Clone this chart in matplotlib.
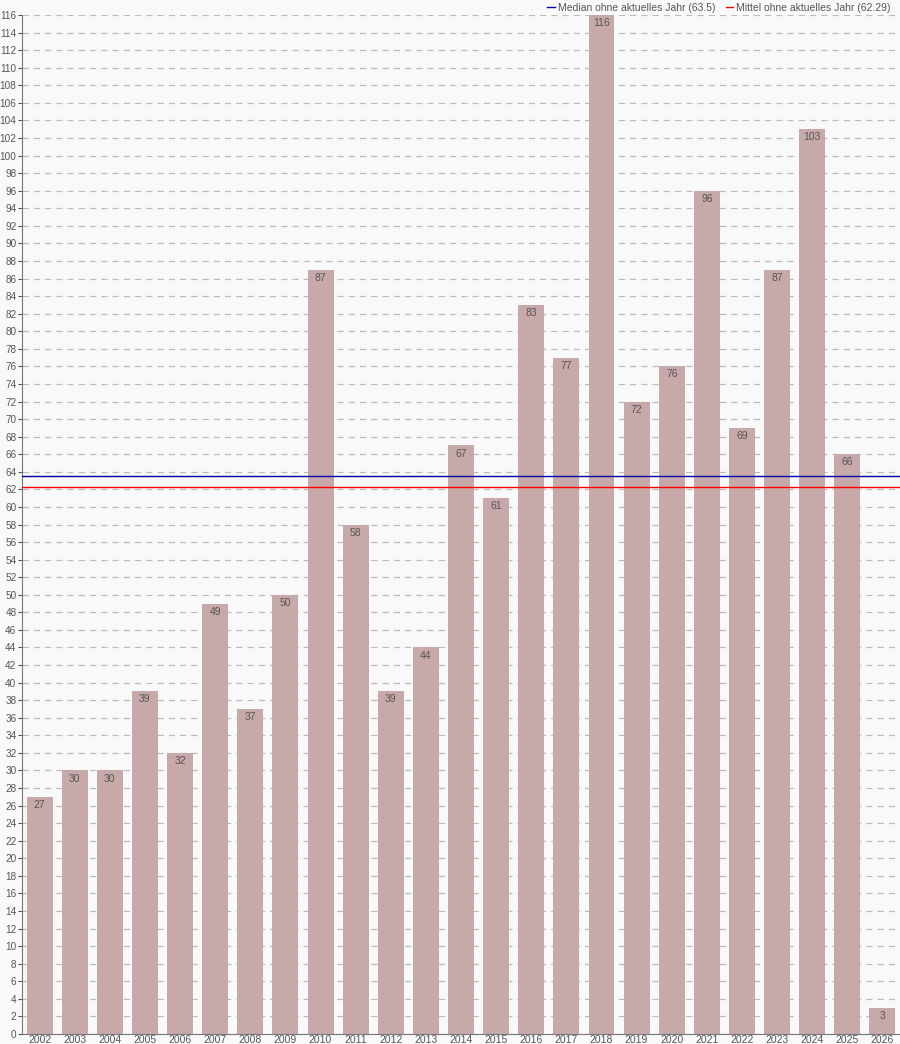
import numpy as np
import matplotlib.pyplot as plt

jahre = [str(j) for j in range(2002, 2027)]
werte = [27, 30, 30, 39, 32, 49, 37, 50, 87, 58, 39, 44, 67, 61, 83, 77, 116,
         72, 76, 96, 69, 87, 103, 66, 3]

# Statistik ohne aktuelles Jahr
ohne_aktuell = np.array(werte[:-1])
median = np.median(ohne_aktuell)
mittel = round(float(np.mean(ohne_aktuell)), 2)

plt.rcParams['font.family'] = ['Liberation Sans', 'DejaVu Sans']
bg = '#f9f9f9'
fig = plt.figure(figsize=(9, 10.44), dpi=100, facecolor=bg)
ax = fig.add_axes([0.0245, 0.0096, 0.9755, 0.976])
ax.set_facecolor(bg)

x = np.arange(len(jahre))
ax.bar(x, werte, width=0.74, color='#c8a9a9', zorder=2)
for xi, v in zip(x, werte):
    ax.text(xi, v - 0.35, str(v), ha='center', va='top', fontsize=7.5,
            color='#555555', zorder=3)

l1 = ax.axhline(median, color='#0000aa', linewidth=1, zorder=4)
l2 = ax.axhline(mittel, color='#ff0000', linewidth=1, zorder=4)

ax.set_xlim(-0.5, len(jahre) - 0.5)
ax.set_ylim(0, 116)
ax.set_yticks(range(0, 117, 2))
ax.set_xticks(x)
ax.set_xticklabels(jahre)
ax.tick_params(axis='y', labelsize=7.2, colors='#555555', length=3, pad=1)
ax.tick_params(axis='x', labelsize=7.5, colors='#555555', length=0, pad=1)
ax.yaxis.grid(True, linestyle=(0, (5, 4)), color='#bbbbbb', linewidth=0.9, zorder=0)
ax.set_axisbelow(True)
for s in ['top', 'right']:
    ax.spines[s].set_visible(False)
for s in ['left', 'bottom']:
    ax.spines[s].set_color('#777777')

fig.legend([l1, l2],
           [f'Median ohne aktuelles Jahr ({median:g})',
            f'Mittel ohne aktuelles Jahr ({mittel:g})'],
           loc='upper right', bbox_to_anchor=(1.0, 1.006), ncol=2, frameon=False,
           fontsize=7.5, handlelength=0.7, handletextpad=0.3, columnspacing=1.0,
           labelcolor='#555555')

fig.savefig('out.png', dpi=100, facecolor=bg)
